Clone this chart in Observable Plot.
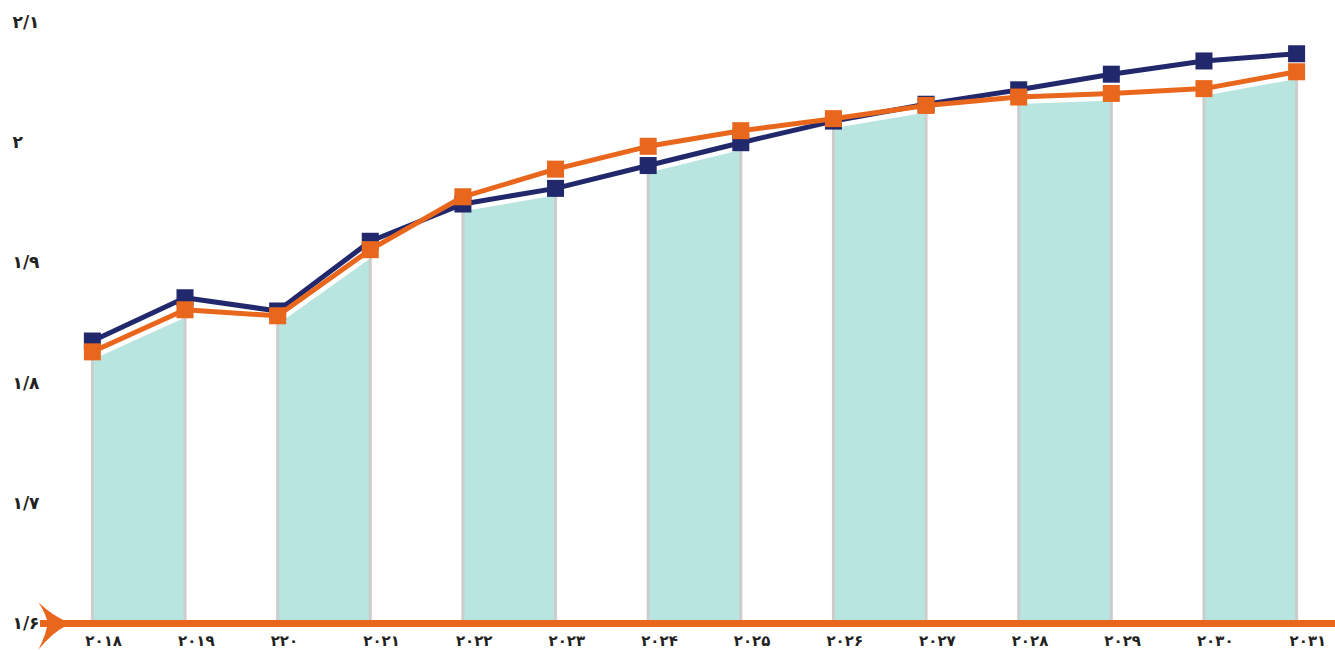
<!DOCTYPE html>
<html>
<head>
<meta charset="utf-8">
<script src="https://cdn.jsdelivr.net/npm/d3@7"></script>
<script src="https://cdn.jsdelivr.net/npm/@observablehq/plot@0.6"></script>
<style>
  html, body { margin: 0; padding: 0; background: #fff; }
  #chart svg { display: block; }
</style>
</head>
<body>
<div id="chart"></div>
<script>
// ---- data ----
const years = [2018, 2019, 2020, 2021, 2022, 2023, 2024, 2025, 2026, 2027, 2028, 2029, 2030, 2031];
const xTickLabels = ["۲۰۱۸", "۲۰۱۹", "۲۲۰", "۲۰۲۱", "۲۰۲۲", "۲۰۲۳", "۲۰۲۴", "۲۰۲۵", "۲۰۲۶", "۲۰۲۷", "۲۰۲۸", "۲۰۲۹", "۲۰۳۰", "۲۰۳۱"];
const blueValues   = [1.835, 1.871, 1.860, 1.918, 1.949, 1.962, 1.981, 2.000, 2.018, 2.032, 2.044, 2.057, 2.068, 2.074];
const orangeValues = [1.826, 1.861, 1.856, 1.911, 1.955, 1.978, 1.997, 2.010, 2.020, 2.031, 2.038, 2.041, 2.045, 2.059];
const yTicks = [1.6, 1.7, 1.8, 1.9, 2.0, 2.1];
const yTickLabels = ["۱/۶", "۱/۷", "۱/۸", "۱/۹", "۲", "۲/۱"];

const BLUE = "#21286c";
const ORANGE = "#e8671c";
const TEAL = "#b9e5e1";
const GRAY = "#cccccc";
const BASE = yTicks[0];

const rows = years.map((year, i) => ({
  year,
  blue: blueValues[i],
  orange: orangeValues[i],
  lower: Math.min(blueValues[i], orangeValues[i]),
  band: Math.floor(i / 2)
}));

// arrow-like decoration at the left end of the axis
const arrowSymbol = {
  draw(ctx) {
    ctx.moveTo(-12, -21);
    ctx.quadraticCurveTo(2, -8, 16, -2);
    ctx.lineTo(16, 2);
    ctx.quadraticCurveTo(2, 9, -12, 26);
    ctx.quadraticCurveTo(-4, 10, -3, 0);
    ctx.quadraticCurveTo(-4, -9, -12, -21);
    ctx.closePath();
  }
};

const font = "'DejaVu Sans', sans-serif";

const chart = Plot.plot({
  width: 1335,
  height: 650,
  marginLeft: 40,
  marginRight: 0,
  marginTop: 22,
  marginBottom: 27,
  style: { fontFamily: font, background: "#fff", overflow: "visible" },
  x: { domain: [2017.44, 2031.42], axis: null },
  y: { domain: [1.6, 2.1], axis: null },
  marks: [
    Plot.areaY(rows, { x: "year", y1: BASE, y2: "lower", z: "band", fill: TEAL, curve: "linear" }),
    Plot.line(rows, { x: "year", y: "lower", stroke: "#fff", strokeWidth: 14 }),
    Plot.ruleX(rows, { x: "year", y1: BASE, y2: "lower", stroke: GRAY, strokeWidth: 3 }),
    Plot.ruleY([BASE], { stroke: ORANGE, strokeWidth: 7 }),
    Plot.dot([BASE], { y: d => d, frameAnchor: "left", dx: 10, symbol: arrowSymbol, fill: ORANGE, stroke: "none" }),
    Plot.line(rows, { x: "year", y: "blue", stroke: BLUE, strokeWidth: 5 }),
    Plot.dot(rows, { x: "year", y: "blue", symbol: "square", r: 9.6, fill: BLUE, stroke: "none" }),
    Plot.line(rows, { x: "year", y: "orange", stroke: ORANGE, strokeWidth: 5 }),
    Plot.dot(rows, { x: "year", y: "orange", symbol: "square", r: 9.6, fill: ORANGE, stroke: "none" }),
    Plot.text(yTicks, { y: d => d, text: (d, i) => yTickLabels[i], frameAnchor: "left", textAnchor: "start", dx: -28, fontSize: 17, fontWeight: "bold", fill: "#222" }),
    Plot.text(years, { x: d => d, text: (d, i) => xTickLabels[i], frameAnchor: "bottom", textAnchor: "start", dx: -7, dy: 22, fontSize: 15, fontWeight: "bold", fill: "#222" })
  ]
});

document.getElementById("chart").appendChild(chart);
</script>
</body>
</html>
